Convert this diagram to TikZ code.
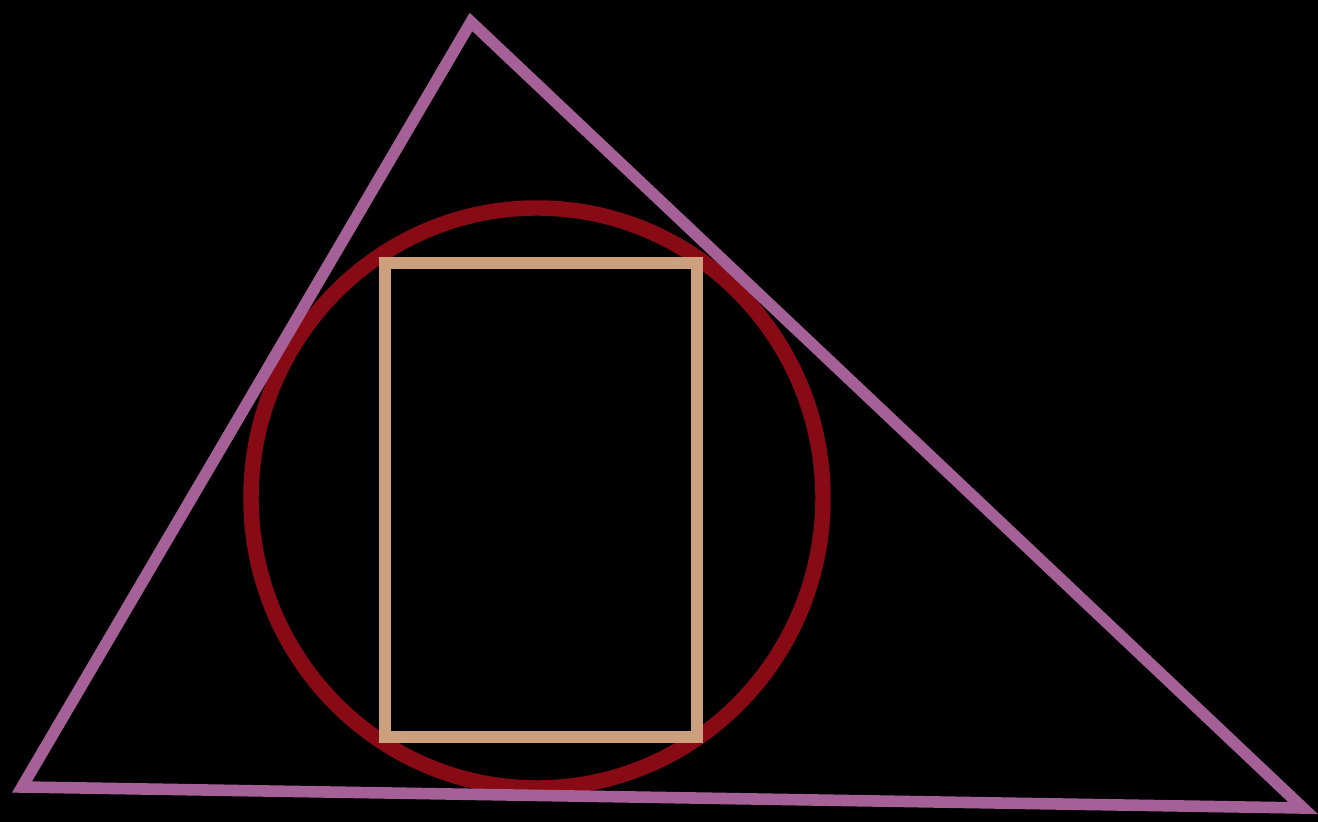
\documentclass[tikz,border=0pt]{standalone}
\definecolor{tri}{RGB}{165,96,152}
\definecolor{circ}{RGB}{135,10,20}
\definecolor{rect}{RGB}{205,160,125}
\begin{document}
\begin{tikzpicture}[x=0.01cm,y=-0.01cm,
  triline/.style={draw=tri,line width=3.3pt,line join=miter},
  circline/.style={draw=circ,line width=4.4pt},
  rectline/.style={draw=rect,line width=3.6pt}]
\fill[black] (0,0) rectangle (1318,822);
\useasboundingbox (0,0) rectangle (1318,822);
\coordinate (A) at (471,22);
\coordinate (B) at (22,787);
\coordinate (C) at (1303,808);
\draw[circline] (537,498) ellipse [x radius=286, y radius=290];
\draw[rectline] (385,263) rectangle (697,737);
\draw[triline] (A) -- (B) -- (C) -- cycle;
\end{tikzpicture}
\end{document}
